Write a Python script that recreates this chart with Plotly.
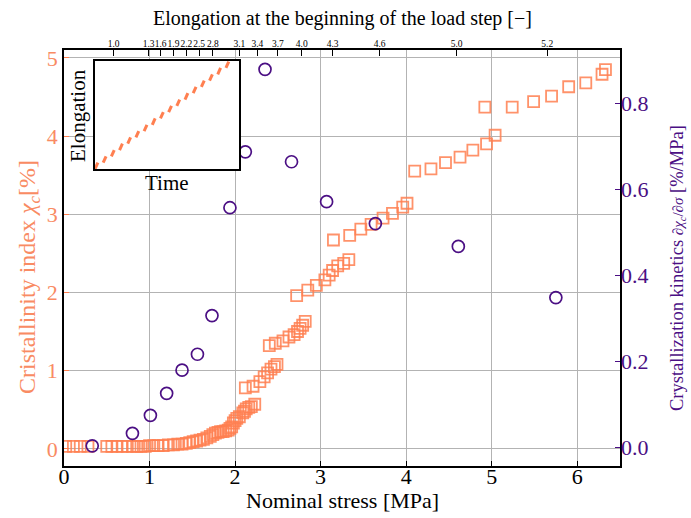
import plotly.graph_objects as go

# ---------------- data ----------------
# Crystallinity index (left axis)
stress_sq = [0.02, 0.11, 0.19, 0.28,
             0.50, 0.56, 0.62, 0.68, 0.74, 0.80, 0.85, 0.90, 0.95, 1.00, 1.05, 1.10,
             1.16, 1.22, 1.28, 1.33, 1.38, 1.43, 1.47, 1.51, 1.55, 1.59, 1.63, 1.67,
             1.71, 1.74, 1.77, 1.80, 1.83, 1.86, 1.89, 1.92, 1.94, 1.96, 1.98, 2.00,
             2.02, 2.05, 2.09, 2.11, 2.13, 2.16, 2.19, 2.23,
             2.12, 2.21, 2.29, 2.34, 2.38, 2.42, 2.46, 2.49,
             2.40, 2.47, 2.56, 2.63, 2.69, 2.73, 2.76, 2.79, 2.82,
             2.72, 2.85, 2.95, 3.05, 3.10, 3.14, 3.20, 3.27, 3.33,
             3.15, 3.34, 3.47, 3.59, 3.73, 3.84, 3.96, 4.01,
             4.10, 4.29, 4.46, 4.63, 4.78, 4.94, 5.04,
             4.92, 5.24, 5.49, 5.70, 5.90, 6.10, 6.29, 6.33]
cryst = [0.03, 0.03, 0.03, 0.03,
         0.03, 0.03, 0.03, 0.03, 0.03, 0.03, 0.03, 0.03, 0.03, 0.04, 0.04, 0.04,
         0.04, 0.05, 0.05, 0.06, 0.06, 0.07, 0.08, 0.09, 0.10, 0.11, 0.12, 0.14,
         0.16, 0.18, 0.20, 0.21, 0.22, 0.22, 0.23, 0.24, 0.26, 0.28, 0.33, 0.36,
         0.39, 0.41, 0.46, 0.48, 0.51, 0.53, 0.54, 0.57,
         0.78, 0.80, 0.86, 0.92, 0.97, 1.02, 1.05, 1.08,
         1.32, 1.35, 1.38, 1.43, 1.46, 1.50, 1.54, 1.58, 1.63,
         1.96, 2.03, 2.09, 2.16, 2.22, 2.28, 2.34, 2.37, 2.42,
         2.67, 2.73, 2.81, 2.87, 2.95, 3.01, 3.09, 3.14,
         3.55, 3.58, 3.66, 3.73, 3.82, 3.90, 4.01,
         4.37, 4.37, 4.44, 4.51, 4.63, 4.68, 4.79, 4.85]

# Crystallization kinetics (right axis)
stress_circ = [0.33, 0.80, 1.01, 1.20, 1.38, 1.56, 1.73, 1.94, 2.12, 2.35,
               2.66, 3.07, 3.64, 4.61, 5.75]
kinetics = [0.003, 0.032, 0.074, 0.125, 0.179, 0.216, 0.306, 0.557, 0.687, 0.879,
            0.664, 0.571, 0.520, 0.467, 0.348]

# Bottom axis ticks
stress_ticks = [0, 1, 2, 3, 4, 5, 6]

# Top axis: elongation at the beginning of each load step
top_tick_stress = [0.58, 0.99, 1.13, 1.28, 1.43, 1.58, 1.74, 2.05, 2.26, 2.50,
                   2.78, 3.14, 3.69, 4.59, 5.65]
top_tick_labels = ["1.0", "1.3", "1.6", "1.9", "2.2", "2.5", "2.8", "3.1", "3.4",
                   "3.7", "4.0", "4.3", "4.6", "5.0", "5.2"]

# Inset: schematic elongation ramps (start/end of each ramp)
inset_ramp_t0 = [0, 1, 2, 3, 4, 5, 6, 7, 8, 9, 10, 11, 12, 13, 14, 15, 16]
inset_ramp_t1 = [0.35, 1.35, 2.35, 3.35, 4.35, 5.35, 6.35, 7.35, 8.35, 9.35,
                 10.35, 11.35, 12.35, 13.35, 14.35, 15.35, 16.35]
inset_ramp_e0 = [0, 1, 2, 3, 4, 5, 6, 7, 8, 9, 10, 11, 12, 13, 14, 15, 16]
inset_ramp_e1 = [1, 2, 3, 4, 5, 6, 7, 8, 9, 10, 11, 12, 13, 14, 15, 16, 17]

# ---------------- style ----------------
ORANGE = "#FF7F50"
ORANGE_TXT = "#F98B63"
PURPLE = "#4B0F84"
FONT = "Liberation Serif, Times New Roman, serif"
GRID = "#b3b3b3"

W, H = 691, 518
L, R, T, B = 64, 71, 50, 52
PW, PH = W - L - R, H - T - B


def px2paper_x(px):
    return (px - L) / PW


def px2paper_y(py):
    return (H - B - py) / PH


fig = go.Figure()

fig.add_trace(go.Scatter(
    x=stress_sq, y=cryst, mode="markers", xaxis="x", yaxis="y",
    marker=dict(symbol="square-open", size=11, color=ORANGE,
                line=dict(width=1.8, color=ORANGE), opacity=0.85),
    showlegend=False, hoverinfo="skip"))

fig.add_trace(go.Scatter(
    x=stress_circ, y=kinetics, mode="markers", xaxis="x", yaxis="y2",
    marker=dict(symbol="circle-open", size=12, color=PURPLE,
                line=dict(width=1.7, color=PURPLE)),
    showlegend=False, hoverinfo="skip"))

# invisible traces to activate top axis and bottom label axis
fig.add_trace(go.Scatter(x=[None], y=[None], xaxis="x2", yaxis="y",
                         showlegend=False, hoverinfo="skip"))
fig.add_trace(go.Scatter(x=[None], y=[None], xaxis="x4", yaxis="y",
                         showlegend=False, hoverinfo="skip"))

# inset ramps
ix, iy = [], []
for a, b, c, d in zip(inset_ramp_t0, inset_ramp_t1, inset_ramp_e0, inset_ramp_e1):
    ix += [a, b, None]
    iy += [c, d, None]
fig.add_trace(go.Scatter(x=ix, y=iy, mode="lines", xaxis="x3", yaxis="y3",
                         line=dict(color=ORANGE, width=3),
                         showlegend=False, hoverinfo="skip"))

inset_x = [px2paper_x(95), px2paper_x(239)]
inset_y = [px2paper_y(169), px2paper_y(61)]

fig.update_layout(
    width=W, height=H,
    margin=dict(l=L, r=R, t=T, b=B, pad=0),
    paper_bgcolor="white", plot_bgcolor="white",
    font=dict(family=FONT, size=22, color="black"),
    xaxis=dict(range=[0, 6.5], tickvals=stress_ticks, showticklabels=False,
               ticks="inside", ticklen=5, tickwidth=1.2, tickcolor="black",
               showline=True, linecolor="black", linewidth=1.5, mirror=True,
               showgrid=True, gridcolor=GRID, gridwidth=1.3, zeroline=False),
    xaxis4=dict(range=[0, 6.5], overlaying="x", side="bottom", anchor="free",
                position=5 / PH, tickvals=stress_ticks, ticks="",
                showline=False, showgrid=False, zeroline=False,
                tickfont=dict(size=22, family=FONT, color="black")),
    xaxis2=dict(range=[0, 6.5], overlaying="x", side="top", anchor="y",
                tickvals=top_tick_stress, ticktext=top_tick_labels,
                ticks="inside", ticklen=6, tickwidth=1.2, tickcolor="black",
                showline=False, showgrid=False, zeroline=False,
                tickangle=0,
                tickfont=dict(size=9.5, family=FONT, color="black")),
    yaxis=dict(range=[-0.22, 5.1], tickvals=[0, 1, 2, 3, 4, 5],
               ticks="inside", ticklen=5, tickwidth=1.2, tickcolor=ORANGE,
               showline=True, linecolor="black", linewidth=1.5, mirror=True,
               showgrid=True, gridcolor=GRID, gridwidth=1.3, zeroline=False,
               tickfont=dict(size=22, family=FONT, color=ORANGE_TXT)),
    yaxis2=dict(range=[-0.044, 0.924], overlaying="y", side="right", anchor="x",
                tickvals=[0, 0.2, 0.4, 0.6, 0.8],
                ticktext=["0.0", "0.2", "0.4", "0.6", "0.8"],
                ticks="inside", ticklen=5, tickwidth=1.2, tickcolor=PURPLE,
                showline=False, showgrid=False, zeroline=False,
                tickfont=dict(size=22, family=FONT, color=PURPLE)),
    xaxis3=dict(domain=inset_x, anchor="y3", range=[0, 17.6],
                showline=True, mirror=True, linecolor="black", linewidth=1.5,
                showticklabels=False, ticks="", showgrid=False, zeroline=False),
    yaxis3=dict(domain=inset_y, anchor="x3", range=[0, 17.1],
                showline=True, mirror=True, linecolor="black", linewidth=1.5,
                showticklabels=False, ticks="", showgrid=False, zeroline=False),
)

annotations = [
    dict(text="Nominal stress [MPa]", x=0.5, y=px2paper_y(500),
         xanchor="center", yanchor="middle", font=dict(size=22, color="black")),
    dict(text="Elongation at the beginning of the load step [\u2212]", x=0.5,
         y=px2paper_y(18), xanchor="center", yanchor="middle",
         font=dict(size=20, color="black")),
    dict(text="Cristallinity index <i>\u03c7<sub>c</sub></i>[%]", x=px2paper_x(29),
         y=px2paper_y(277), xanchor="center", yanchor="middle", textangle=-90,
         font=dict(size=24, color=ORANGE_TXT)),
    dict(text="Crystallization kinetics <span style='font-size:15px'>\u2202<i>\u03c7<sub>c</sub></i>/\u2202<i>\u03c3</i></span> [%/MPa]",
         x=px2paper_x(677), y=px2paper_y(268), xanchor="center", yanchor="middle",
         textangle=-90, font=dict(size=18.5, color=PURPLE)),
    dict(text="Time", x=px2paper_x(167), y=px2paper_y(183),
         xanchor="center", yanchor="middle", font=dict(size=21, color="black")),
    dict(text="Elongation", x=px2paper_x(78), y=px2paper_y(116),
         xanchor="center", yanchor="middle", textangle=-90,
         font=dict(size=21, color="black")),
]
for a in annotations:
    a.update(xref="paper", yref="paper", showarrow=False)
fig.update_layout(annotations=annotations)

fig.write_html("out.html")
